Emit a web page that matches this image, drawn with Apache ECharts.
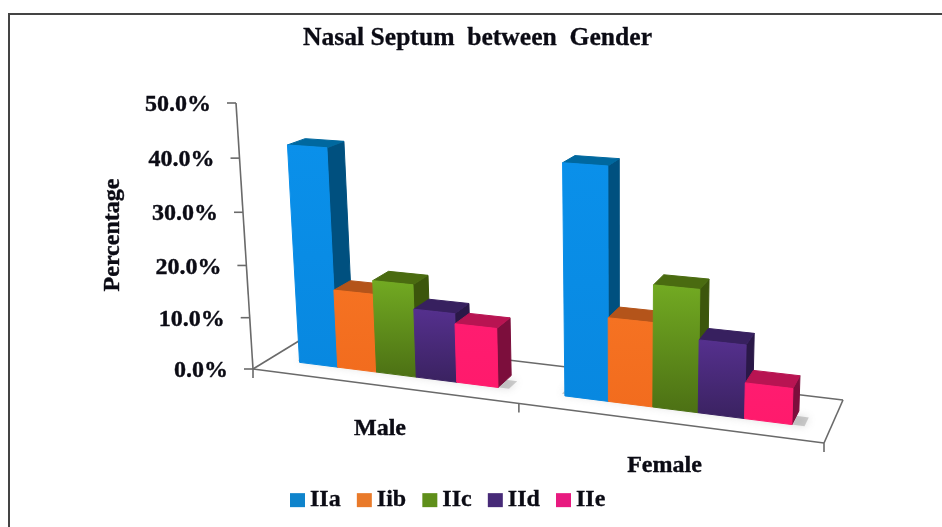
<!DOCTYPE html>
<html><head><meta charset="utf-8">
<style>html,body{margin:0;padding:0;background:#fff}#c{width:942px;height:527px}</style>
<script src="https://cdn.jsdelivr.net/npm/echarts@6/dist/echarts.min.js"></script>
</head><body><div id="c"></div>
<script>
const categories = ['Male', 'Female'];
const seriesNames = ['IIa', 'Iib', 'IIc', 'IId', 'IIe'];
const IIa = [41.7, 42.0];
const Iib = [15.0, 15.3];
const IIc = [17.6, 22.0];
const IId = [13.0, 13.1];
const IIe = [11.1, 6.4];
const yTicks = [0, 10, 20, 30, 40, 50];
const seriesValues = [IIa, Iib, IIc, IId, IIe];

const font = '"Liberation Serif","Times New Roman",serif';
const textColor = '#0b0b14';
const axisColor = '#6a6a6a';

// Face colours for each series: front top, front bottom, top face, side face
const palette = [
  ['#0a90ea', '#0888e0', '#00689f', '#00507f'],
  ['#f57222', '#f26c1e', '#b4541a', '#8a4212'],
  ['#72aa22', '#4c7014', '#4a6b10', '#3c560c'],
  ['#55308e', '#3a2260', '#37205f', '#2a1848'],
  ['#ff1c70', '#ff1a6c', '#b81452', '#7c0e3c']
];
const legendColors = ['#0f84cc', '#e97a2a', '#5f8f1a', '#472a78', '#e81a80'];

// Perspective camera: screen position of the box corners of the chart space
const O = [253, 369], PX = [824, 443], PZ = [307, 336], PXZ = [843, 400], PY = [236, 103];
const gY = -0.044;
const det = (PXZ[0]-PX[0])*(PXZ[1]-PZ[1]) - (PXZ[0]-PZ[0])*(PXZ[1]-PX[1]);
const r0 = PX[0]+PZ[0]-O[0]-PXZ[0], r1 = PX[1]+PZ[1]-O[1]-PXZ[1];
const gX = (r0*(PXZ[1]-PZ[1]) - (PXZ[0]-PZ[0])*r1) / det;
const gZ = ((PXZ[0]-PX[0])*r1 - r0*(PXZ[1]-PX[1])) / det;
function project(X, Y, Z) {
  const d = 1 + gX*X + gY*Y + gZ*Z;
  const f = i => (O[i] + (PX[i]*(1+gX)-O[i])*X + (PY[i]*(1+gY)-O[i])*Y + (PZ[i]*(1+gZ)-O[i])*Z) / d;
  return [f(0), f(1)];
}
// Convert the library's pixel coordinates in the hidden grid to the unit box
function unit(api, cat, val) {
  const p = api.coord([cat, val]);
  const a = api.coord([0, yTicks[0]]);
  const t = api.coord([0, yTicks[yTicks.length-1]]);
  const band = api.size([1, 0])[0];
  const left = a[0] - band/2;
  return { X: (p[0]-left)/(band*categories.length), Y: (a[1]-p[1])/(a[1]-t[1]), bw: 1/categories.length };
}
const Z0 = 0.30, Z1 = 0.62, BAR = 0.152;

function poly(points, fill) {
  return { type: 'polygon', shape: { points },
    style: { fill, stroke: fill, lineWidth: 1, lineJoin: 'round' } };
}
function barRender(idx) {
  return function (params, api) {
    const cat = api.value(0), val = api.value(1);
    const u = unit(api, cat, val);
    const w = BAR*u.bw;
    const x0 = u.X + (idx-2.5)*w, x1 = x0 + w;
    const Y = u.Y;
    const c = palette[idx];
    const A = project(x0,0,Z0), B = project(x1,0,Z0), C = project(x1,Y,Z0), D = project(x0,Y,Z0);
    const E = project(x1,0,Z1), F = project(x1,Y,Z1), G = project(x0,Y,Z1);
    return { type: 'group', children: [
      poly([B,E,F,C], c[3]),
      poly([D,C,F,G], c[2]),
      poly([A,B,C,D], new echarts.graphic.LinearGradient(0,0,0,1,[{offset:0,color:c[0]},{offset:1,color:c[1]}]))
    ]};
  };
}
function line(a, b, w) {
  return { type:'line', shape:{x1:a[0],y1:a[1],x2:b[0],y2:b[1]}, style:{stroke:axisColor,lineWidth:w||1.6} };
}
function axisRender(params, api) {
  const v = api.value(0);
  const u = unit(api, 0, v);
  const p = project(0, u.Y, 0);
  const kids = [
    line(p, [p[0]-9, p[1]]),
    { type:'text', x:p[0]-25, y:p[1]+2, style:{ text: v.toFixed(1)+'%', font:'bold 24px '+font, fill:textColor, stroke:textColor, lineWidth:0.4, textAlign:'right', textVerticalAlign:'middle' } }
  ];
  if (params.dataIndex === 0) {
    kids.push(line(project(0,0,0), project(0,1,0)));
    kids.push(line(project(0,0,0), project(1,0,0)));
    kids.push(line(project(0,0,0), project(0,0,1)));
    kids.push(line(project(0,0,1), project(1,0,1)));
    kids.push(line(project(1,0,0), project(1,0,1)));
    for (let i = 0; i <= categories.length; i++) {
      const q = project(i/categories.length,0,0);
      kids.push(line(q, [q[0], q[1]+9]));
    }
  }
  return { type:'group', children:kids };
}
function catRender(params, api) {
  const u = unit(api, api.value(0), 0);
  const p = project(u.X, 0, 0);
  return { type:'text', x:p[0]-1.5, y:p[1]+43.5,
    style:{ text: categories[params.dataIndex], font:'bold 24px '+font, fill:textColor, stroke:textColor, lineWidth:0.4, textAlign:'center', textVerticalAlign:'middle' } };
}
function shadowRender(params, api) {
  const u = unit(api, api.value(0), 0);
  const w = BAR*u.bw*2.5;
  const a = u.X-w, b = u.X+w;
  return { type:'polygon', shape:{points:[project(a-0.008,0,Z0+0.04),project(b+0.02,0,Z0),project(b+0.02,0,Z1-0.12),project(a-0.008,0,Z1-0.06)]},
    style:{ fill:'rgba(120,120,120,0.35)', shadowBlur:8, shadowColor:'rgba(110,110,110,0.7)' } };
}

const series = [
  { type:'custom', name:'axes', renderItem:axisRender, data: yTicks.map(v=>[v]), encode:{y:0}, clip:false, silent:true, z:1 },
  { type:'custom', name:'shadow', renderItem:shadowRender, data: categories.map((c,i)=>[i,0]), encode:{x:0,y:1}, clip:false, silent:true, z:2 },
  { type:'custom', name:'labels', renderItem:catRender, data: categories.map((c,i)=>[i,0]), encode:{x:0,y:1}, clip:false, silent:true, z:2 }
];
seriesNames.forEach((n,i)=>series.push({
  type:'custom', name:n, renderItem:barRender(i), clip:false, z:3+i,
  itemStyle:{ color: legendColors[i] },
  encode:{x:0,y:1},
  data: categories.map((c,k)=>[k, seriesValues[i][k]])
}));

const chart = echarts.init(document.getElementById('c'), null, {renderer:'canvas'});
chart.setOption({
  animation:false,
  backgroundColor:'#ffffff',
  title:{ text:'Nasal Septum  between  Gender', left:298, top:20, textStyle:{ fontFamily:font, fontWeight:'bold', fontSize:25.6, color:textColor, textBorderColor:textColor, textBorderWidth:0.3 } },
  grid:{ left:100, top:100, width:700, height:300 },
  xAxis:{ type:'category', data:categories, show:false },
  yAxis:{ type:'value', min:0, max:50, interval:10, show:false },
  legend:{ data:seriesNames, left:285, top:483, icon:'rect', itemWidth:15, itemHeight:14, itemGap:16,
    textStyle:{ fontFamily:font, fontWeight:'bold', fontSize:24, color:textColor, textBorderColor:textColor, textBorderWidth:0.3 } },
  graphic:[{ type:'rect', shape:{x:9,y:14,width:1000,height:600}, style:{fill:'none',stroke:'#444',lineWidth:2}, silent:true, z:100 },
    { type:'text', x:113, y:235, rotation:Math.PI/2, style:{ text:'Percentage', font:'bold 24px '+font, fill:textColor, stroke:textColor, lineWidth:0.4, textAlign:'center', textVerticalAlign:'middle' }, z:100 }],
  series
});
</script></body></html>
